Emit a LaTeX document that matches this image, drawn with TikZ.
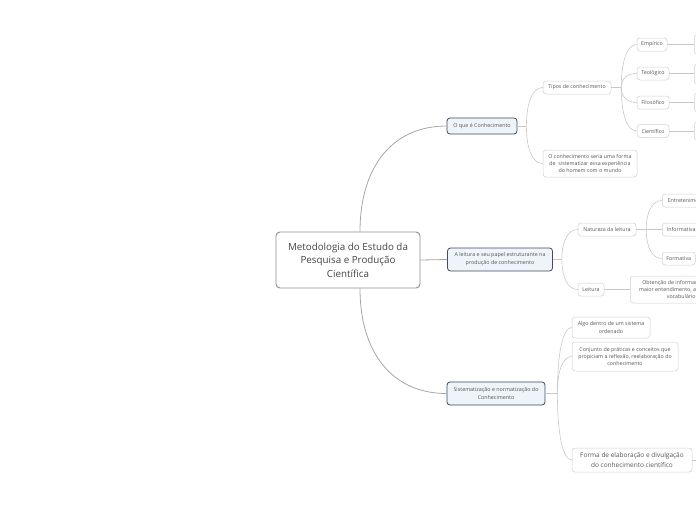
\documentclass[tikz,border=0pt]{standalone}
\usepackage{fontspec}
\setmainfont{Open Sans}
\usetikzlibrary{calc}
\definecolor{rootbd}{HTML}{8C8C8C}
\definecolor{rootedge}{HTML}{A6A6A6}
\definecolor{lonebd}{HTML}{3E4C5E}
\definecolor{lonefill}{HTML}{EEF4FA}
\definecolor{leafbd}{HTML}{D0D0D0}
\definecolor{edgec}{HTML}{C8C8C8}
\definecolor{txt}{HTML}{555555}
\definecolor{roottxt}{HTML}{444444}
\tikzset{
  rootbox/.style={draw=rootbd, line width=0.9pt, rounded corners=4pt, fill=white,
    minimum width=144pt, minimum height=56pt, align=center, text=roottxt,
    font=\fontsize{9.8}{13.5}\selectfont, inner sep=0pt},
  lonebox/.style={draw=lonebd, line width=0.8pt, rounded corners=3pt, fill=lonefill,
    align=center, text=txt, font=\fontsize{5.35}{7.8}\selectfont, inner sep=0pt},
  leafbox/.style={draw=leafbd, line width=0.5pt, rounded corners=3pt, fill=white,
    align=center, text=txt, font=\fontsize{5.3}{7.4}\selectfont, inner sep=0pt},
  bigleaf/.style={leafbox, font=\fontsize{6.5}{10}\selectfont},
  rootline/.style={draw=rootedge, line width=0.8pt},
  linkline/.style={draw=edgec, line width=0.6pt},
}
% smooth bracket-like curve from a branch point to a child's west anchor
\newcommand\bcurve[3]{\draw[#1] (#2) .. controls ($(#2)!0.62!(#2 |- #3)$) and ($(#3)!0.62!(#2 |- #3)$) .. (#3);}
\begin{document}
\begin{tikzpicture}[x=1pt,y=-1pt]
\useasboundingbox (0,0) rectangle (696,520);

% root
\node[rootbox] (root) at (348,260) {Metodologia do Estudo da\\Pesquisa e Produção\\Científica};

% level 1
\node[lonebox, minimum width=70pt, minimum height=16pt] (q1) at (482,126) {O que é Conhecimento};
\node[lonebox, minimum width=105pt, minimum height=23pt] (q2) at (500,259.5) {A leitura e seu papel estruturante na\\produção de conhecimento};
\node[lonebox, minimum width=98pt, minimum height=23pt] (q3) at (496,393.5) {Sistematização e normatização do\\Conhecimento};

% level 2 under q1
\node[leafbox, minimum width=68pt, minimum height=13pt] (tipos) at (577,87.5) {Tipos de conhecimento};
\node[leafbox, minimum width=94pt, minimum height=27pt] (ocon) at (590,163.5) {O conhecimento seria uma forma\\de\ \ sistematizar essa experiência\\do homem com o mundo};

% level 3 under tipos
\node[leafbox, minimum width=30pt, minimum height=13pt] (emp) at (652,44.5) {Empírico};
\node[leafbox, minimum width=32pt, minimum height=13pt] (teo) at (653,73.5) {Teológico};
\node[leafbox, minimum width=32pt, minimum height=13pt] (fil) at (653,102.5) {Filosófico};
\node[leafbox, minimum width=32pt, minimum height=13pt] (cie) at (653,131) {Científico};

% cut boxes at the right edge
\node[leafbox, anchor=west, minimum width=46pt, minimum height=20pt] (emp2) at (694,44.5) {};
\node[leafbox, anchor=west, minimum width=46pt, minimum height=20pt] (teo2) at (694,74) {};
\node[leafbox, anchor=west, minimum width=46pt, minimum height=19pt] (fil2) at (694,102.5) {};
\node[leafbox, anchor=west, minimum width=46pt, minimum height=18pt] (cie2) at (694,131) {};

% level 2 under q2
\node[leafbox, minimum width=58pt, minimum height=13pt] (nat) at (607,229.5) {Natureza da leitura};
\node[leafbox, minimum width=26pt, minimum height=13pt] (leit) at (591,289.5) {Leitura};

% level 3 under nat
\node[leafbox, anchor=west, minimum width=50pt, minimum height=13pt] (ent) at (662,200.5) {Entretenimento};
\node[leafbox, anchor=west, minimum width=38pt, minimum height=13pt] (inf) at (662,229.5) {Informativa};
\node[leafbox, anchor=west, minimum width=33pt, minimum height=13pt] (form) at (662,258.5) {Formativa};
\node[leafbox, anchor=west, minimum width=102pt, minimum height=27pt] (obt) at (630,289.5) {Obtenção de informações, para\\maior entendimento, aumento do\\vocabulário};

% level 2 under q3
\node[leafbox, minimum width=78pt, minimum height=21pt] (s1) at (611,327.5) {Algo dentro de um sistema\\ordenado};
\node[leafbox, minimum width=106pt, minimum height=29pt] (s2) at (625,356.5) {Conjunto de práticas e conceitos que\\propiciam a reflexão, reelaboração do\\conhecimento};
\node[bigleaf, minimum width=120pt, minimum height=24pt] (s3) at (632,460) {Forma de elaboração e divulgação\\do conhecimento científico};
\coordinate (s3end) at (700,460);

% root connectors
\coordinate (rt) at ([xshift=12pt]root.north);
\coordinate (rb) at ([xshift=12pt]root.south);
\bcurve{rootline}{rt}{q1.west}
\draw[rootline] (root.east) -- (q2.west);
\bcurve{rootline}{rb}{q3.west}

% q1 branches
\draw[linkline] (q1.east) -- ++(9,0) coordinate (b1);
\bcurve{linkline}{b1}{tipos.west}
\bcurve{linkline}{b1}{ocon.west}

% tipos branches
\draw[linkline, line width=0.9pt] (tipos.east) -- ++(10,0) coordinate (b2);
\bcurve{linkline}{b2}{emp.west}
\bcurve{linkline}{b2}{teo.west}
\bcurve{linkline}{b2}{fil.west}
\bcurve{linkline}{b2}{cie.west}

\draw[linkline] (emp.east) -- (emp.east -| emp2.west);
\draw[linkline] (teo.east) -- (teo.east -| teo2.west);
\draw[linkline] (fil.east) -- (fil.east -| fil2.west);
\draw[linkline] (cie.east) -- (cie.east -| cie2.west);

% q2 branches
\draw[linkline] (q2.east) -- ++(9,0) coordinate (b3);
\bcurve{linkline}{b3}{nat.west}
\bcurve{linkline}{b3}{leit.west}

% nat branches
\draw[linkline, line width=0.9pt] (nat.east) -- ++(10,0) coordinate (b4);
\bcurve{linkline}{b4}{ent.west}
\draw[linkline] (b4) -- (inf.west);
\bcurve{linkline}{b4}{form.west}

\draw[linkline] (leit.east) -- (obt.west);

% q3 branches
\draw[linkline] (q3.east) -- ++(12,0) coordinate (b5);
\bcurve{linkline}{b5}{s1.west}
\bcurve{linkline}{b5}{s2.west}
\bcurve{linkline}{b5}{s3.west}
\draw[linkline] (s3.east) -- (s3end);
\end{tikzpicture}
\end{document}
